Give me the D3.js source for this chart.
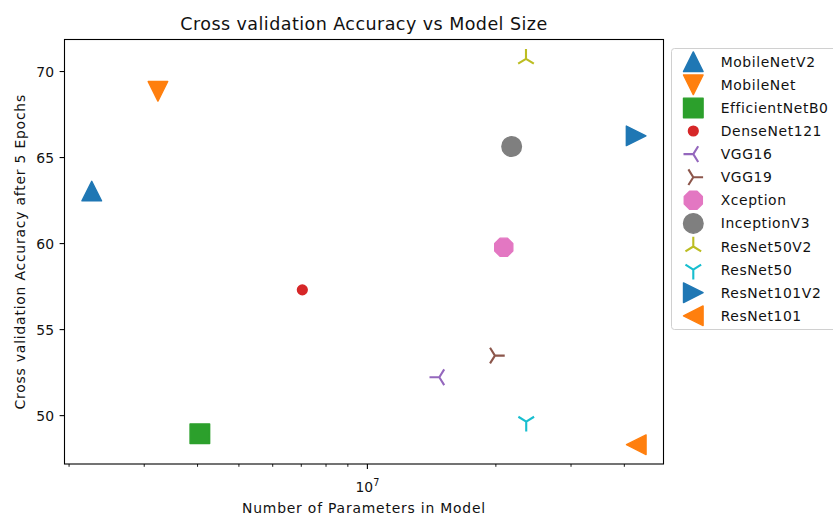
<!DOCTYPE html>
<html><head><meta charset="utf-8">
<script src="https://cdn.jsdelivr.net/npm/d3@7"></script>
<style>body{margin:0;background:#fff}svg{display:block;font-family:"DejaVu Sans",sans-serif}</style>
</head><body><svg id="c" width="833" height="515"></svg>
<script>
const models = ["MobileNetV2","MobileNet","EfficientNetB0","DenseNet121","VGG16","VGG19","Xception","InceptionV3","ResNet50V2","ResNet50","ResNet101V2","ResNet101"];
const params = [2.26e6, 3.23e6, 4.05e6, 7.04e6, 1.474e7, 1.99e7, 2.087e7, 2.178e7, 2.353e7, 2.356e7, 4.263e7, 4.266e7];
const accuracy = [63.05, 68.85, 48.95, 57.31, 52.23, 53.49, 59.79, 65.64, 70.74, 49.65, 66.26, 48.31];
const markers = ["^","v","s",".","3","4","8","o","2","1",">","<"];
const colors = ["#1f77b4","#ff7f0e","#2ca02c","#d62728","#9467bd","#8c564b","#e377c2","#7f7f7f","#bcbd22","#17becf","#1f77b4","#ff7f0e"];
const yTicks = [50,55,60,65,70];
const xMajor = [1e7];
const xMinor = [2e6,3e6,4e6,5e6,6e6,7e6,8e6,9e6,2e7,3e7,4e7];

const svg = d3.select("#c");
const L = 64.5, R = 663.5, T = 39.5, B = 464;
const lx = params.map(Math.log10);
const lmin = d3.min(lx), lmax = d3.max(lx), lpad = (lmax-lmin)*0.05;
const ymin = d3.min(accuracy), ymax = d3.max(accuracy), ypad = (ymax-ymin)*0.05;
const x = d3.scaleLog().domain([10**(lmin-lpad), 10**(lmax+lpad)]).range([L, R]);
const y = d3.scaleLinear().domain([ymin-ypad, ymax+ypad]).range([B, T]);

const S = 19.6; // marker size px
function markerPath(m, s) {
  const h = s/2;
  const poly = pts => "M" + pts.map(p => p[0].toFixed(2)+","+p[1].toFixed(2)).join("L") + "Z";
  const rot = (pts, a) => pts.map(([px,py]) => [px*Math.cos(a)-py*Math.sin(a), px*Math.sin(a)+py*Math.cos(a)]);
  const tri = [[0,0],[0,-1],[0,0],[0.8,0.5],[0,0],[-0.8,0.5]];
  const triLines = a => {
    const r = rot(tri, a).map(([px,py]) => [px*h, -py*h]);
    return `M${r[0]}L${r[1]}M${r[2]}L${r[3]}M${r[4]}L${r[5]}`;
  };
  switch (m) {
    case "^": return poly([[0,-h],[-h,h],[h,h]]);
    case "v": return poly([[0,h],[-h,-h],[h,-h]]);
    case ">": return poly([[h,0],[-h,-h],[-h,h]]);
    case "<": return poly([[-h,0],[h,-h],[h,h]]);
    case "s": return poly([[-h,-h],[h,-h],[h,h],[-h,h]]);
    case "o": return d3.arc()({innerRadius:0,outerRadius:h,startAngle:0,endAngle:2*Math.PI});
    case ".": return d3.arc()({innerRadius:0,outerRadius:h/2,startAngle:0,endAngle:2*Math.PI});
    case "8": { const p=[]; for(let i=0;i<8;i++){const a=Math.PI/8+i*Math.PI/4; p.push([h*Math.cos(a),h*Math.sin(a)]);} return poly(p); }
    case "1": return triLines(0);
    case "2": return triLines(Math.PI);
    case "3": return triLines(3*Math.PI/2);
    case "4": return triLines(Math.PI/2);
  }
}
const isLine = m => ["1","2","3","4"].includes(m);
function drawMarker(g, m, c) {
  g.append("path").attr("d", markerPath(m, S))
    .attr("fill", isLine(m) ? "none" : c)
    .attr("stroke", c)
    .attr("stroke-width", isLine(m) ? 2.1 : 1.4)
    .attr("stroke-linejoin", "round");
}

// points
models.forEach((name, i) => {
  const g = svg.append("g").attr("transform", `translate(${x(params[i])},${y(accuracy[i])})`);
  drawMarker(g, markers[i], colors[i]);
});

// axes
const ax = svg.append("g").attr("stroke", "#000").attr("stroke-width", 1.1);
yTicks.forEach(t => {
  ax.append("line").attr("x1", L-4.9).attr("x2", L).attr("y1", y(t)).attr("y2", y(t));
  svg.append("text").attr("x", L-10.5).attr("y", y(t)+5).attr("text-anchor","end")
    .attr("font-size", 13.9).attr("fill", "#111").text(t);
});
xMajor.forEach(t => {
  ax.append("line").attr("x1", x(t)).attr("x2", x(t)).attr("y1", B).attr("y2", B+4.9);
  const tx = svg.append("text").attr("x", x(t)).attr("y", 491.5).attr("text-anchor","middle")
    .attr("font-size", 13.9).attr("fill", "#111");
  tx.append("tspan").text("10");
  tx.append("tspan").attr("font-size", 9.7).attr("dy", -5.5).text(Math.round(Math.log10(t)));
});
xMinor.filter(t => t >= x.domain()[0] && t <= x.domain()[1]).forEach(t => {
  ax.append("line").attr("x1", x(t)).attr("x2", x(t)).attr("y1", B).attr("y2", B+2.8).attr("stroke-width", 0.9);
});
svg.append("rect").attr("x", L).attr("y", T).attr("width", R-L).attr("height", B-T)
  .attr("fill", "none").attr("stroke", "#000").attr("stroke-width", 1.1);

// labels
svg.append("text").attr("x", (L+R)/2).attr("y", 29.5).attr("text-anchor","middle")
  .attr("font-size", 17.5).attr("letter-spacing", 0.45).attr("fill", "#111").text("Cross validation Accuracy vs Model Size");
svg.append("text").attr("x", (L+R)/2).attr("y", 513).attr("text-anchor","middle")
  .attr("font-size", 13.9).attr("letter-spacing", 0.8).attr("fill", "#111").text("Number of Parameters in Model");
svg.append("text").attr("transform", `translate(24.5,${(T+B)/2}) rotate(-90)`).attr("text-anchor","middle")
  .attr("font-size", 13.9).attr("letter-spacing", 0.8).attr("fill", "#111").text("Cross validation Accuracy after 5 Epochs");

// legend
const lg = svg.append("g");
lg.append("rect").attr("x", 671.5).attr("y", 48.5).attr("width", 170).attr("height", 281)
  .attr("rx", 3).attr("fill", "#fff").attr("fill-opacity", 0.8).attr("stroke", "#d0d0d0").attr("stroke-width", 1);
models.forEach((name, i) => {
  const cy = 61.7 + i*23.1;
  drawMarker(lg.append("g").attr("transform", `translate(693.3,${cy})`), markers[i], colors[i]);
  lg.append("text").attr("x", 720.7).attr("y", cy+5).attr("font-size", 13.9).attr("letter-spacing", 0.6)
    .attr("fill", "#111").text(name);
});
</script></body></html>
